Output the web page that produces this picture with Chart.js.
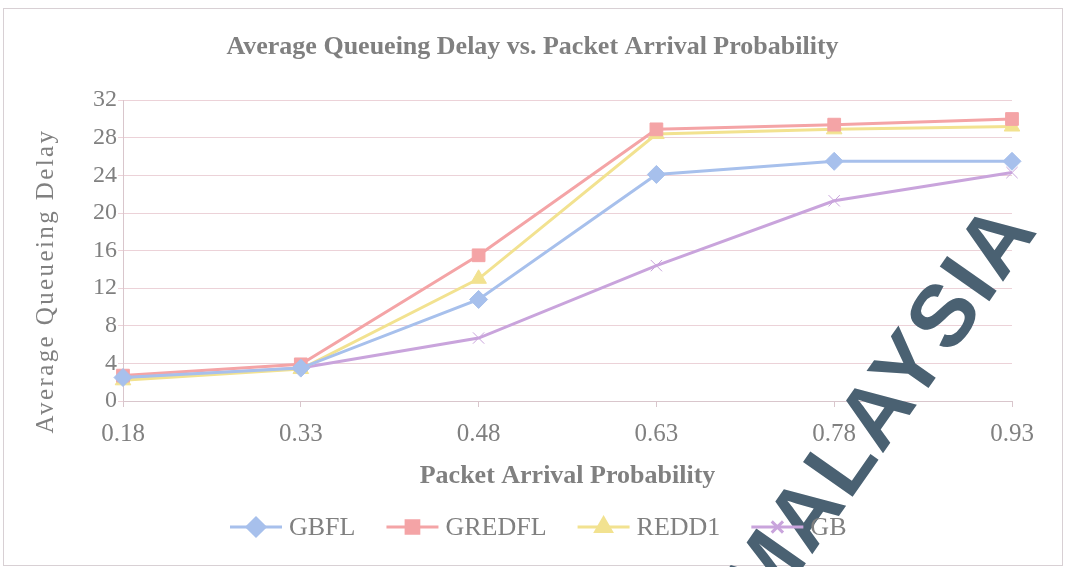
<!DOCTYPE html>
<html>
<head>
<meta charset="utf-8">
<script src="https://cdn.jsdelivr.net/npm/chart.js@4.4.1/dist/chart.umd.min.js"></script>
<style>
  html, body { margin: 0; padding: 0; background: #fff; }
  #wrap { width: 1065px; height: 567px; }
</style>
</head>
<body>
<div id="wrap"><canvas id="myChart" width="1065" height="567"></canvas></div>
<script>
const labels = ["0.18", "0.33", "0.48", "0.63", "0.78", "0.93"];
const gbfl = [2.5, 3.5, 10.8, 24.1, 25.5, 25.5];
const gredfl = [2.7, 3.9, 15.5, 28.9, 29.4, 30.0];
const redd1 = [2.2, 3.4, 13.0, 28.4, 28.9, 29.2];
const gb = [2.4, 3.5, 6.7, 14.4, 21.3, 24.3];
const yTicks = [0, 4, 8, 12, 16, 20, 24, 28, 32];

const serif = "'Liberation Serif', 'Times New Roman', serif";
const textGray = "#808080";

// legend drawn by hand: line + marker + name
const legendPlugin = {
  id: "lineLegend",
  afterDraw(chart) {
    const c = chart.ctx;
    const y = 527;
    let x = 230;
    c.save();
    c.font = "26px " + serif;
    c.textBaseline = "middle";
    chart.data.datasets.forEach((ds) => {
      c.strokeStyle = ds.borderColor;
      c.lineWidth = 3;
      c.beginPath();
      c.moveTo(x, y);
      c.lineTo(x + 52, y);
      c.stroke();
      c.fillStyle = ds.borderColor;
      Chart.helpers.drawPoint(c, {
        pointStyle: ds.pointStyle,
        radius: ds.pointRadius,
        borderWidth: 1,
      }, x + 26, y);
      c.fillStyle = textGray;
      c.fillText(ds.label, x + 59, y + 1);
      x += 59 + c.measureText(ds.label).width + 31;
    });
    c.restore();
  },
};

// frame, y axis title (letter spaced) and the scan watermark
const framePlugin = {
  id: "frame",
  beforeDraw(chart) {
    const c = chart.ctx;
    c.save();
    c.fillStyle = "#fff";
    c.fillRect(0, 0, chart.width, chart.height);
    c.strokeStyle = "#d8d0d4";
    c.lineWidth = 1;
    c.strokeRect(3.5, 8.5, chart.width - 6, chart.height - 10);
    c.restore();
  },
  afterDraw(chart) {
    const c = chart.ctx;
    c.save();
    c.translate(46, 281);
    c.rotate(-Math.PI / 2);
    c.font = "25px " + serif;
    c.letterSpacing = "2.4px";
    c.fillStyle = textGray;
    c.textAlign = "center";
    c.textBaseline = "middle";
    c.fillText("Average Queueing Delay", 0, 0);
    c.restore();

    c.save();
    c.translate(1040, 229);
    c.rotate(-0.96);
    c.font = "bold 88px 'Liberation Sans', Arial, sans-serif";
    c.letterSpacing = "3px";
    c.fillStyle = "#4a6172";
    c.textAlign = "right";
    c.textBaseline = "alphabetic";
    c.fillText("MALAYSIA", 0, 0);
    c.restore();
  },
};

function mkSet(label, data, color, style, r) {
  return {
    label: label,
    data: data,
    borderColor: color,
    backgroundColor: color,
    pointBorderColor: color,
    pointBackgroundColor: color,
    borderWidth: 3,
    pointStyle: style,
    pointRadius: r,
    pointBorderWidth: 1,
    tension: 0,
  };
}

const ctx = document.getElementById("myChart").getContext("2d");
const myChart = new Chart(ctx, {
  type: "line",
  data: {
    labels: labels,
    datasets: [
      mkSet("GBFL", gbfl, "#a7c0ec", "rectRot", 9),
      mkSet("GREDFL", gredfl, "#f4a4a6", "rect", 9),
      mkSet("REDD1", redd1, "#f2e290", "triangle", 9),
      mkSet("GB", gb, "#c9a4dc", "crossRot", 8),
    ],
  },
  options: {
    responsive: false,
    animation: false,
    layout: { padding: { left: 0, right: 0, top: 0, bottom: 60 } },
    plugins: {
      legend: { display: false },
      tooltip: { enabled: false },
      title: {
        display: true,
        text: "Average Queueing Delay vs. Packet Arrival Probability",
        color: textGray,
        font: { family: serif, size: 26, weight: "bold" },
        padding: { top: 32, bottom: 37 },
      },
    },
    scales: {
      x: {
        offset: false,
        afterFit(scale) { scale.height = 106; },
        grid: { display: true, drawOnChartArea: false, drawTicks: true, tickLength: 6, color: "#d9c6cc" },
        border: { color: "#d9c6cc" },
        ticks: { color: textGray, font: { family: serif, size: 25 }, padding: 12 },
        title: {
          display: true,
          text: "Packet Arrival Probability",
          color: textGray,
          font: { family: serif, size: 26, weight: "bold" },
          padding: { top: 0, bottom: 15 },
        },
      },
      y: {
        min: 0,
        max: 32,
        afterFit(scale) { scale.width = 123; },
        afterBuildTicks(scale) { scale.ticks = yTicks.map((v) => ({ value: v })); },
        grid: { color: "#ecd2d8", tickLength: 5 },
        border: { color: "#d9c6cc" },
        ticks: { color: textGray, font: { family: serif, size: 24 }, padding: 1 },
      },
      // empty right-hand axis, only keeps the plot clear of the right edge
      yRight: {
        position: "right",
        min: 0,
        max: 32,
        afterFit(scale) { scale.width = 53; },
        grid: { display: false },
        border: { display: false },
        ticks: { display: false },
      },
    },
  },
  plugins: [framePlugin, legendPlugin],
});
</script>
</body>
</html>
